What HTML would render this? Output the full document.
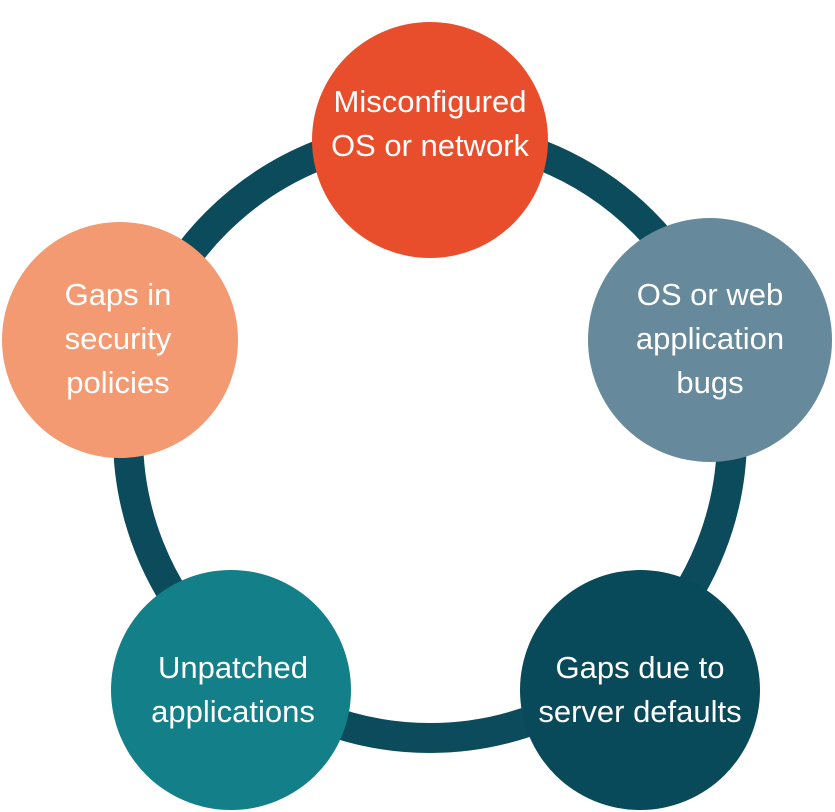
<!DOCTYPE html>
<html><head><style>
html,body{margin:0;padding:0;background:#fff;width:835px;height:812px;overflow:hidden}
svg text{font-family:"Liberation Sans Narrow","Liberation Sans",sans-serif;font-size:31px;fill:#fff;text-anchor:middle}
</style></head><body>
<svg width="835" height="812" viewBox="0 0 835 812">
<circle cx="430" cy="436" r="302" fill="none" stroke="#0b4b5b" stroke-width="30"/>
<circle cx="430" cy="140" r="118" fill="#e84e2c"/>
<circle cx="710" cy="340" r="122" fill="#668a9b"/>
<circle cx="640" cy="690" r="120" fill="#084a5a"/>
<circle cx="231" cy="690" r="120" fill="#137f89"/>
<circle cx="120" cy="340" r="118" fill="#f39a72"/>
<text x="430" y="112">Misconfigured</text>
<text x="430" y="156">OS or network</text>
<text x="710" y="305">OS or web</text>
<text x="710" y="349">application</text>
<text x="710" y="393">bugs</text>
<text x="640" y="678">Gaps due to</text>
<text x="640" y="722">server defaults</text>
<text x="233" y="678">Unpatched</text>
<text x="233" y="722">applications</text>
<text x="118" y="305">Gaps in</text>
<text x="118" y="349">security</text>
<text x="118" y="393">policies</text>
</svg>
</body></html>
